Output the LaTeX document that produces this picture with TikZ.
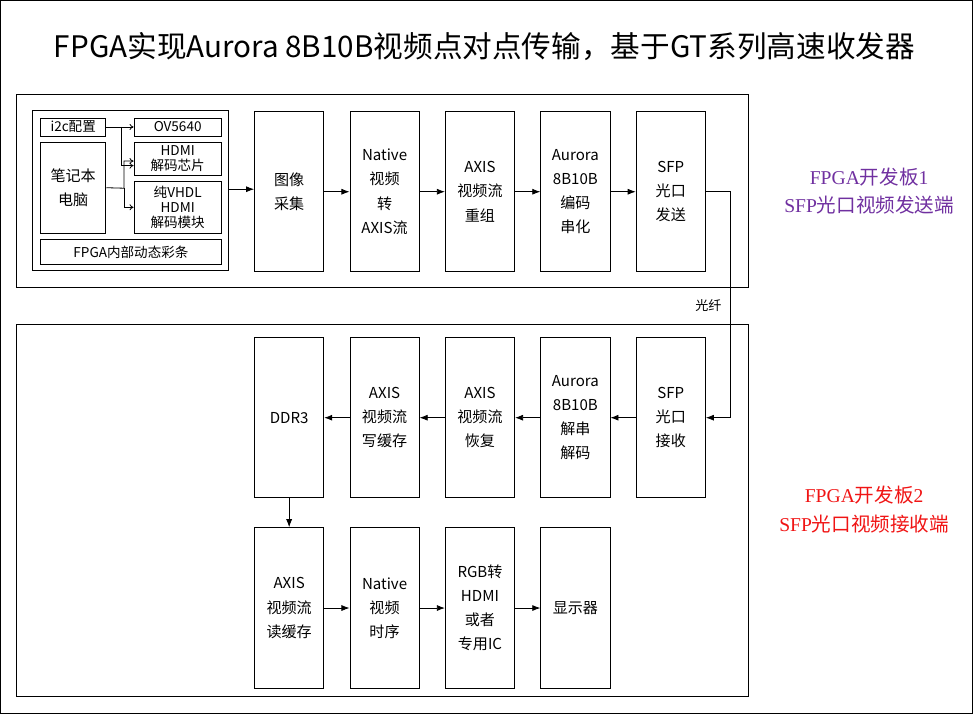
\documentclass[tikz,border=0pt]{standalone}
\usepackage{fontspec}
\setmainfont{Noto Sans CJK SC}
\newfontfamily\titlefont{Liberation Serif}
\usetikzlibrary{arrows.meta}
\tikzset{>=latex}
\definecolor{boardone}{RGB}{112,48,160}
\definecolor{boardtwo}{RGB}{240,20,20}
\tikzset{
  blk/.style={draw, thick, minimum width=69pt, minimum height=159pt, align=center, font=\fontsize{15}{24}\selectfont, inner sep=1pt},
  sub/.style={draw, thick, align=center, font=\fontsize{13.5}{15}\selectfont, inner sep=0pt},
  flow/.style={draw=black, thick, -{Latex[length=8pt,width=6pt]}},
  thin/.style={draw=black, thick, -{To[length=4pt,width=6pt]}},
}
\begin{document}
\begin{tikzpicture}[x=1pt,y=-1pt]
  \draw[thick] (2,2) rectangle (970,712);
  \node[font=\fontsize{29.5}{31}\selectfont] (title) at (484,48) {FPGA实现Aurora 8B10B视频点对点传输，基于GT系列高速收发器};
  \draw[thick] (18,96) rectangle (747,288);
  \draw[thick] (18,325) rectangle (747,695);

  % input sources
  \node[draw, thick, minimum width=195pt, minimum height=159pt] (src) at (131.5,191.5) {};
  \node[sub, minimum width=65pt, minimum height=18pt] (i2c) at (74.5,128) {i2c配置};
  \node[sub, minimum width=87pt, minimum height=18pt] (ov) at (178.5,128) {OV5640};
  \node[sub, minimum width=87pt, minimum height=33pt] (chip) at (178.5,159.5) {HDMI\\解码芯片};
  \node[sub, minimum width=87pt, minimum height=52pt] (vhdl) at (178.5,208) {纯VHDL\\HDMI\\解码模块};
  \node[sub, minimum width=65pt, minimum height=91pt, font=\fontsize{15}{24}\selectfont] (pc) at (74.5,188.5) {笔记本\\电脑};
  \node[sub, minimum width=180pt, minimum height=25pt] (bar) at (132,252.5) {FPGA内部动态彩条};
  \path[thin] (i2c.east) -- (ov.west);
  \path[thin] (122,128) |- ([yshift=-7pt]chip.west);
  \path[thin] (pc.east) -- (125,189) |- (chip.west |- 0,162);
  \path[thin] (125,189) |- (vhdl.west |- 0,208);

  % sender
  \node[blk] (cap) at (289.5,192.5) {图像\\采集};
  \node[blk] (nat) at (384.5,192.5) {Native\\视频\\转\\AXIS流};
  \node[blk] (reg) at (479.5,192.5) {AXIS\\视频流\\重组};
  \node[blk] (enc) at (574.5,192.5) {Aurora\\8B10B\\编码\\串化};
  \node[blk] (tx) at (669.5,192.5) {SFP\\光口\\发送};
  \path[flow] (src.east |- 0,190) -- (cap.west |- 0,190);
  \path[flow] (cap) -- (nat);
  \path[flow] (nat) -- (reg);
  \path[flow] (reg) -- (enc);
  \path[flow] (enc) -- (tx);

  % receiver
  \node[blk] (ddr) at (289.5,417.5) {DDR3};
  \node[blk] (wr) at (384.5,417.5) {AXIS\\视频流\\写缓存};
  \node[blk] (rec) at (479.5,417.5) {AXIS\\视频流\\恢复};
  \node[blk] (dec) at (574.5,417.5) {Aurora\\8B10B\\解串\\解码};
  \node[blk] (rx) at (669.5,417.5) {SFP\\光口\\接收};
  \path[flow] (tx.east) -- (729,192.5) |- (rx.east);
  \node[font=\fontsize{13}{14}\selectfont] (fiber) at (707,306) {光纤};
  \path[flow] (rx) -- (dec);
  \path[flow] (dec) -- (rec);
  \path[flow] (rec) -- (wr);
  \path[flow] (wr) -- (ddr);

  \node[blk, minimum height=160pt] (rd) at (289.5,607) {AXIS\\视频流\\读缓存};
  \node[blk, minimum height=160pt] (tim) at (384.5,607) {Native\\视频\\时序};
  \node[blk, minimum height=160pt] (rgb) at (479.5,607) {RGB转\\HDMI\\或者\\专用IC};
  \node[blk, minimum height=160pt] (disp) at (574.5,607) {显示器};
  \path[flow] (ddr) -- (rd);
  \path[flow] (rd) -- (tim);
  \path[flow] (tim) -- (rgb);
  \path[flow] (rgb) -- (disp);

  % board labels
  \node[text=boardone, align=center, font=\titlefont\fontsize{19.5}{28}\selectfont] (lab1) at (867,192) {FPGA\fontspec{Noto Sans CJK SC}开发板\titlefont 1\\SFP\fontspec{Noto Sans CJK SC}光口视频发送端};
  \node[text=boardtwo, align=center, font=\titlefont\fontsize{19.5}{28}\selectfont] (lab2) at (862,509) {FPGA\fontspec{Noto Sans CJK SC}开发板\titlefont 2\\SFP\fontspec{Noto Sans CJK SC}光口视频接收端};
\end{tikzpicture}
\end{document}
